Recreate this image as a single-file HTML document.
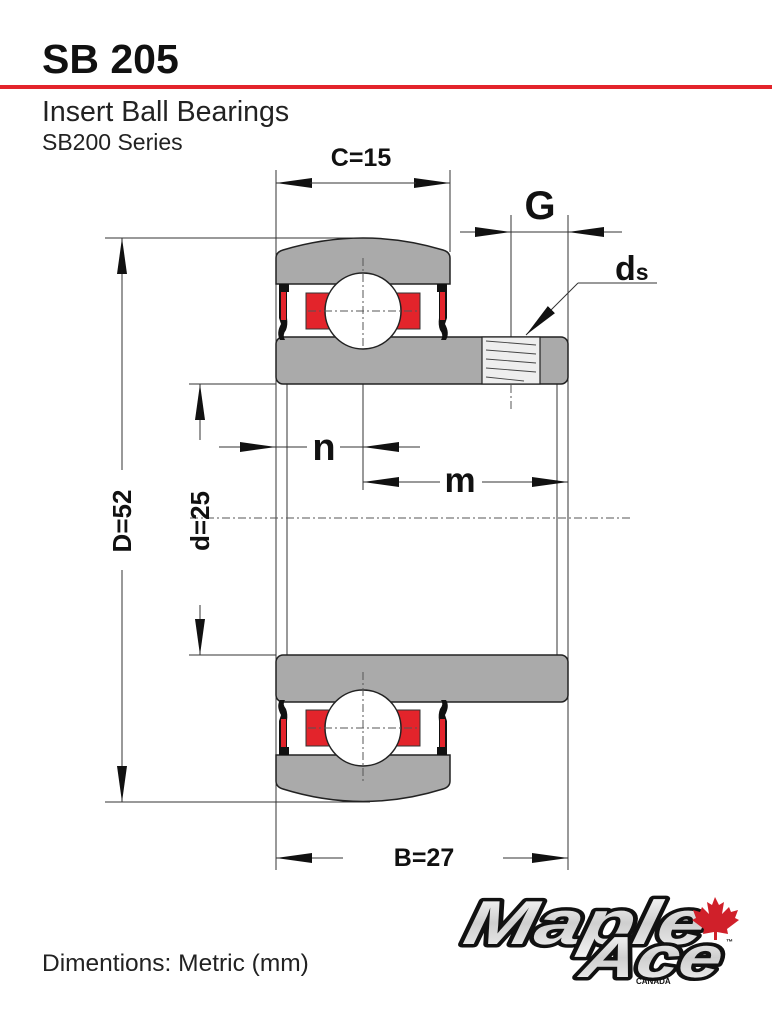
<!DOCTYPE html>
<html><head><meta charset="utf-8"><style>
html,body{margin:0;padding:0;background:#fff;}
body{width:772px;height:1024px;overflow:hidden;position:relative;font-family:"Liberation Sans",sans-serif;}
</style></head><body>
<svg width="772" height="1024" viewBox="0 0 772 1024" xmlns="http://www.w3.org/2000/svg" style="position:absolute;left:0;top:0">
<defs>
<marker id="a" viewBox="0 0 36 12" refX="36" refY="6" markerWidth="36" markerHeight="12" markerUnits="userSpaceOnUse" orient="auto"><path d="M0,1 L36,6 L0,11 Z" fill="#111"/></marker>
<linearGradient id="lg" x1="0" y1="0" x2="0" y2="1"><stop offset="0" stop-color="#fff"/><stop offset="0.5" stop-color="#cfcfcf"/><stop offset="1" stop-color="#f4f4f4"/></linearGradient>
</defs>
<text x="42" y="73" font-size="41" font-weight="bold" fill="#111">SB 205</text>
<rect x="0" y="85" width="772" height="4" fill="#e3242b"/>
<text x="42" y="121" font-size="28.5" fill="#222">Insert Ball Bearings</text>
<text x="42" y="150" font-size="23" fill="#222">SB200 Series</text>

<g stroke="#333" stroke-width="1" fill="none">
<line x1="276" y1="170" x2="276" y2="870"/>
<line x1="450" y1="170" x2="450" y2="252"/>
<line x1="568" y1="215" x2="568" y2="870"/>
<line x1="511" y1="215" x2="511" y2="337"/>
<line x1="105" y1="238" x2="370" y2="238"/>
<line x1="105" y1="802" x2="370" y2="802"/>
<line x1="189" y1="384" x2="276" y2="384"/>
<line x1="189" y1="655" x2="276" y2="655"/>
<line x1="287" y1="384" x2="287" y2="655"/>
<line x1="557" y1="384" x2="557" y2="655"/>
<line x1="363" y1="384" x2="363" y2="490"/>
</g>
<g stroke="#555" stroke-width="1" stroke-dasharray="8,3,2,3" fill="none">
<line x1="190" y1="518" x2="632" y2="518"/>
<line x1="511" y1="337" x2="511" y2="412"/>
</g>

<path d="M276,258 Q276,252 283,250 Q363,226 443,250 Q450,252 450,258 L450,284 L276,284 Z" fill="#aaa" stroke="#222" stroke-width="1.5"/>
<rect x="276" y="337" width="292" height="47" rx="7" fill="#aaa" stroke="#222" stroke-width="1.5"/>
<rect x="482" y="337" width="58" height="47" fill="#eee" stroke="#222" stroke-width="1.2"/>
<g stroke="#444" stroke-width="0.9">
<line x1="486" y1="341" x2="536" y2="345"/><line x1="486" y1="350" x2="536" y2="354"/>
<line x1="486" y1="359" x2="536" y2="363"/><line x1="486" y1="368" x2="536" y2="372"/>
<line x1="486" y1="377" x2="524" y2="381"/>
</g>
<g>
<rect x="279" y="284" width="10" height="8" fill="#111"/>
<path d="M279,292 L287,292 L287,318 Q288,325 286,330 Q282,335 285,340 L280,340 Q276,333 281,324 L279,318 Z" fill="#111"/>
<rect x="281" y="292" width="5" height="28" fill="#e3242b"/>
<rect x="437" y="284" width="10" height="8" fill="#111"/>
<path d="M447,292 L439,292 L439,318 Q438,325 440,330 Q444,335 441,340 L446,340 Q450,333 445,324 L447,318 Z" fill="#111"/>
<rect x="440" y="292" width="5" height="28" fill="#e3242b"/>
<rect x="306" y="293" width="114" height="36" fill="#e3242b" stroke="#333" stroke-width="1"/>
<circle cx="363" cy="311" r="38" fill="#fff" stroke="#222" stroke-width="1.5"/>
<line x1="308" y1="311" x2="420" y2="311" stroke="#555" stroke-dasharray="8,3,2,3"/>
<line x1="363" y1="258" x2="363" y2="348" stroke="#555" stroke-dasharray="8,3,2,3"/>
</g>

<rect x="276" y="655" width="292" height="47" rx="7" fill="#aaa" stroke="#222" stroke-width="1.5"/>
<path d="M276,755 L450,755 L450,781 Q450,787 443,789 Q363,814 283,789 Q276,787 276,781 Z" fill="#aaa" stroke="#222" stroke-width="1.5"/>
<g>
<rect x="279" y="747" width="10" height="8" fill="#111"/>
<path d="M279,747 L287,747 L287,721 Q288,714 286,709 Q282,704 285,700 L280,700 Q276,706 281,715 L279,721 Z" fill="#111"/>
<rect x="281" y="719" width="5" height="28" fill="#e3242b"/>
<rect x="437" y="747" width="10" height="8" fill="#111"/>
<path d="M447,747 L439,747 L439,721 Q438,714 440,709 Q444,704 441,700 L446,700 Q450,706 445,715 L447,721 Z" fill="#111"/>
<rect x="440" y="719" width="5" height="28" fill="#e3242b"/>
<rect x="306" y="710" width="114" height="36" fill="#e3242b" stroke="#333" stroke-width="1"/>
<circle cx="363" cy="728" r="38" fill="#fff" stroke="#222" stroke-width="1.5"/>
<line x1="308" y1="728" x2="420" y2="728" stroke="#555" stroke-dasharray="8,3,2,3"/>
<line x1="363" y1="672" x2="363" y2="782" stroke="#555" stroke-dasharray="8,3,2,3"/>
</g>

<g stroke="#333" stroke-width="1" fill="none">
<line x1="310" y1="183" x2="276" y2="183" marker-end="url(#a)"/>
<line x1="416" y1="183" x2="450" y2="183" marker-end="url(#a)"/>
<line x1="310" y1="183" x2="416" y2="183"/>
<line x1="460" y1="232" x2="511" y2="232" marker-end="url(#a)"/>
<line x1="622" y1="232" x2="568" y2="232" marker-end="url(#a)"/>
<line x1="511" y1="232" x2="568" y2="232"/>
<line x1="122" y1="470" x2="122" y2="238" marker-end="url(#a)"/>
<line x1="122" y1="570" x2="122" y2="802" marker-end="url(#a)"/>
<line x1="200" y1="440" x2="200" y2="384" marker-end="url(#a)"/>
<line x1="200" y1="605" x2="200" y2="655" marker-end="url(#a)"/>
<line x1="219" y1="447" x2="276" y2="447" marker-end="url(#a)"/>
<line x1="276" y1="447" x2="307" y2="447"/>
<line x1="340" y1="447" x2="420" y2="447"/>
<line x1="420" y1="447" x2="363" y2="447" marker-end="url(#a)"/>
<line x1="440" y1="482" x2="363" y2="482" marker-end="url(#a)"/>
<line x1="482" y1="482" x2="568" y2="482" marker-end="url(#a)"/>
<line x1="343" y1="858" x2="276" y2="858" marker-end="url(#a)"/>
<line x1="503" y1="858" x2="568" y2="858" marker-end="url(#a)"/>
<line x1="657" y1="283" x2="578" y2="283"/>
<line x1="578" y1="283" x2="526" y2="335" marker-end="url(#a)"/>
</g>

<g fill="#111" font-weight="bold" font-family="Liberation Sans,sans-serif">
<text x="361" y="166" font-size="25" text-anchor="middle">C=15</text>
<text x="540" y="219" font-size="40" text-anchor="middle">G</text>
<text x="615" y="280" font-size="34">d<tspan font-size="23">s</tspan></text>
<text x="324" y="460" font-size="38" text-anchor="middle">n</text>
<text x="460" y="492" font-size="35" text-anchor="middle">m</text>
<text x="424" y="866" font-size="25" text-anchor="middle">B=27</text>
<text transform="translate(131,521) rotate(-90)" font-size="26" text-anchor="middle">D=52</text>
<text transform="translate(209,521) rotate(-90)" font-size="26" text-anchor="middle">d=25</text>
</g>

<text x="42" y="971" font-size="24.5" fill="#222">Dimentions: Metric (mm)</text>

<g font-family="Liberation Sans,sans-serif" font-weight="bold" font-style="italic">
<text x="662" y="944" font-size="62" fill="url(#lg)" stroke="#111" stroke-width="7" stroke-linejoin="round" paint-order="stroke" transform="skewX(-12)" textLength="240" lengthAdjust="spacingAndGlyphs">Maple</text>
<text x="786" y="977" font-size="58" fill="url(#lg)" stroke="#111" stroke-width="7" stroke-linejoin="round" paint-order="stroke" transform="skewX(-12)" textLength="140" lengthAdjust="spacingAndGlyphs">Ace</text>
<text x="636" y="984" font-size="8" font-style="normal" fill="#111">CANADA</text>
<text x="726" y="944" font-size="7" font-style="normal" fill="#111">™</text>
</g>
<path d="M715,897 L719,905 L724,902 L722,914 L729,907 L731,912 L738,910 L735,918 L739,920 L727,929 L728,934 L717,932 L717,940 L714,940 L714,932 L703,934 L704,929 L692,920 L696,918 L693,910 L700,912 L702,907 L709,914 L707,902 L712,905 Z" fill="#d0202a"/>
</svg>
</body></html>
